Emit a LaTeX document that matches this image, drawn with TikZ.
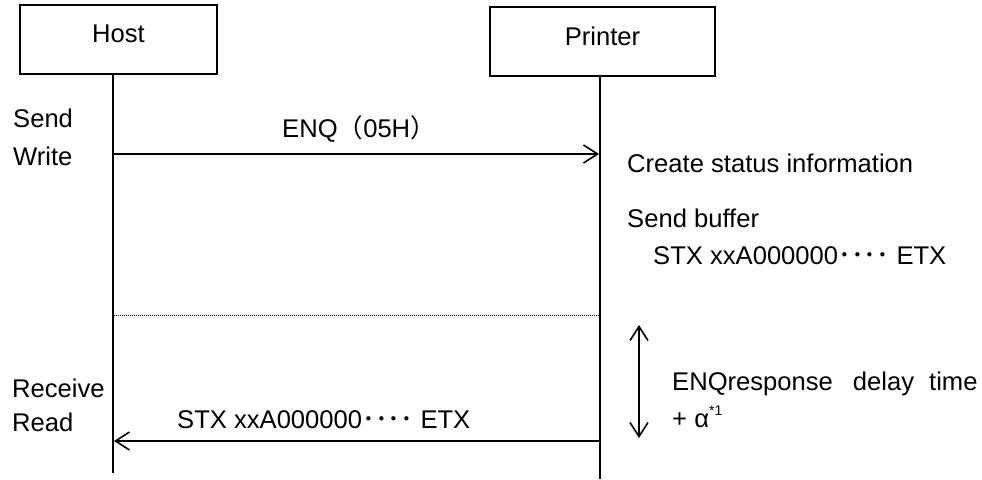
\documentclass[tikz,border=0pt]{standalone}
\usepackage{fontspec}
\setmainfont{Liberation Sans}
\newfontfamily\cjk{Noto Sans CJK SC}
\usetikzlibrary{arrows.meta}
\tikzset{
  lbl/.style={inner sep=0pt, anchor=base west, font=\fontsize{25.6pt}{30pt}\selectfont},
  actor/.style={draw, line width=1.3pt, minimum width=#1, inner sep=0pt},
  lifeline/.style={line width=1.3pt},
  msg/.style={line width=1.7pt, -{Straight Barb[length=14pt,width=18pt,line width=1.6pt]}},
  twoway/.style={line width=1.7pt, {Straight Barb[length=14pt,width=18pt,line width=1.6pt]}-{Straight Barb[length=14pt,width=18pt,line width=1.6pt]}},
  sep/.style={line width=0.9pt, dash pattern=on 1pt off 1pt}
}
\begin{document}
\begin{tikzpicture}[x=1pt,y=-1pt]
\useasboundingbox (0,0) rectangle (982,479);
% actors
\node[actor=197pt, minimum height=69pt] (host) at (118.5,39.5) {};
\node[lbl, anchor=base] (hostlbl) at (118.5,42) {Host};
\node[actor=225pt, minimum height=69pt] (printer) at (602.5,41.5) {};
\node[lbl, anchor=base] (printerlbl) at (602.5,45) {Printer};
% lifeline coordinates
\coordinate (hTop) at (113,74);
\coordinate (hBot) at (113,473);
\coordinate (pTop) at (600,76);
\coordinate (pBot) at (600,479);
\draw[lifeline] (hTop) -- (hBot);
\draw[lifeline] (pTop) -- (pBot);
% messages
\coordinate (enqS) at (113,154);
\coordinate (enqE) at (599,154);
\draw[msg] (enqS) -- (enqE);
\coordinate (stxS) at (600,441);
\coordinate (stxE) at (114,441);
\draw[msg] (stxS) -- (stxE);
% separator
\coordinate (sepS) at (114,315);
\coordinate (sepE) at (599,315);
\draw[sep] (sepS) -- (sepE);
% delay arrow
\coordinate (dTop) at (639,325);
\coordinate (dBot) at (639,438);
\draw[twoway] (dTop) -- (dBot);
% labels
\node[lbl] (send) at (13,127) {Send};
\node[lbl] (write) at (13,165) {Write};
\node[lbl] (enqlbl) at (282,137) {ENQ{\cjk（}05H{\cjk）}};
\node[lbl] (create) at (627,172) {Create status information};
\node[lbl] (sbuf) at (627,227) {Send buffer};
\node[lbl] (stxup) at (653,264) {STX xxA000000{\cjk ････} ETX};
\node[lbl] (recv) at (12,397) {Receive};
\node[lbl] (read) at (12,431) {Read};
\node[lbl] (stxlow) at (177,428) {STX xxA000000{\cjk ････} ETX};
\node[lbl] (delay) at (672,390) {ENQresponse\hspace{20pt}delay\hspace{15pt}time};
\node[lbl] (alpha) at (672,427) {+ α\raisebox{12pt}{\fontsize{14pt}{16pt}\selectfont *1}};
\end{tikzpicture}
\end{document}
